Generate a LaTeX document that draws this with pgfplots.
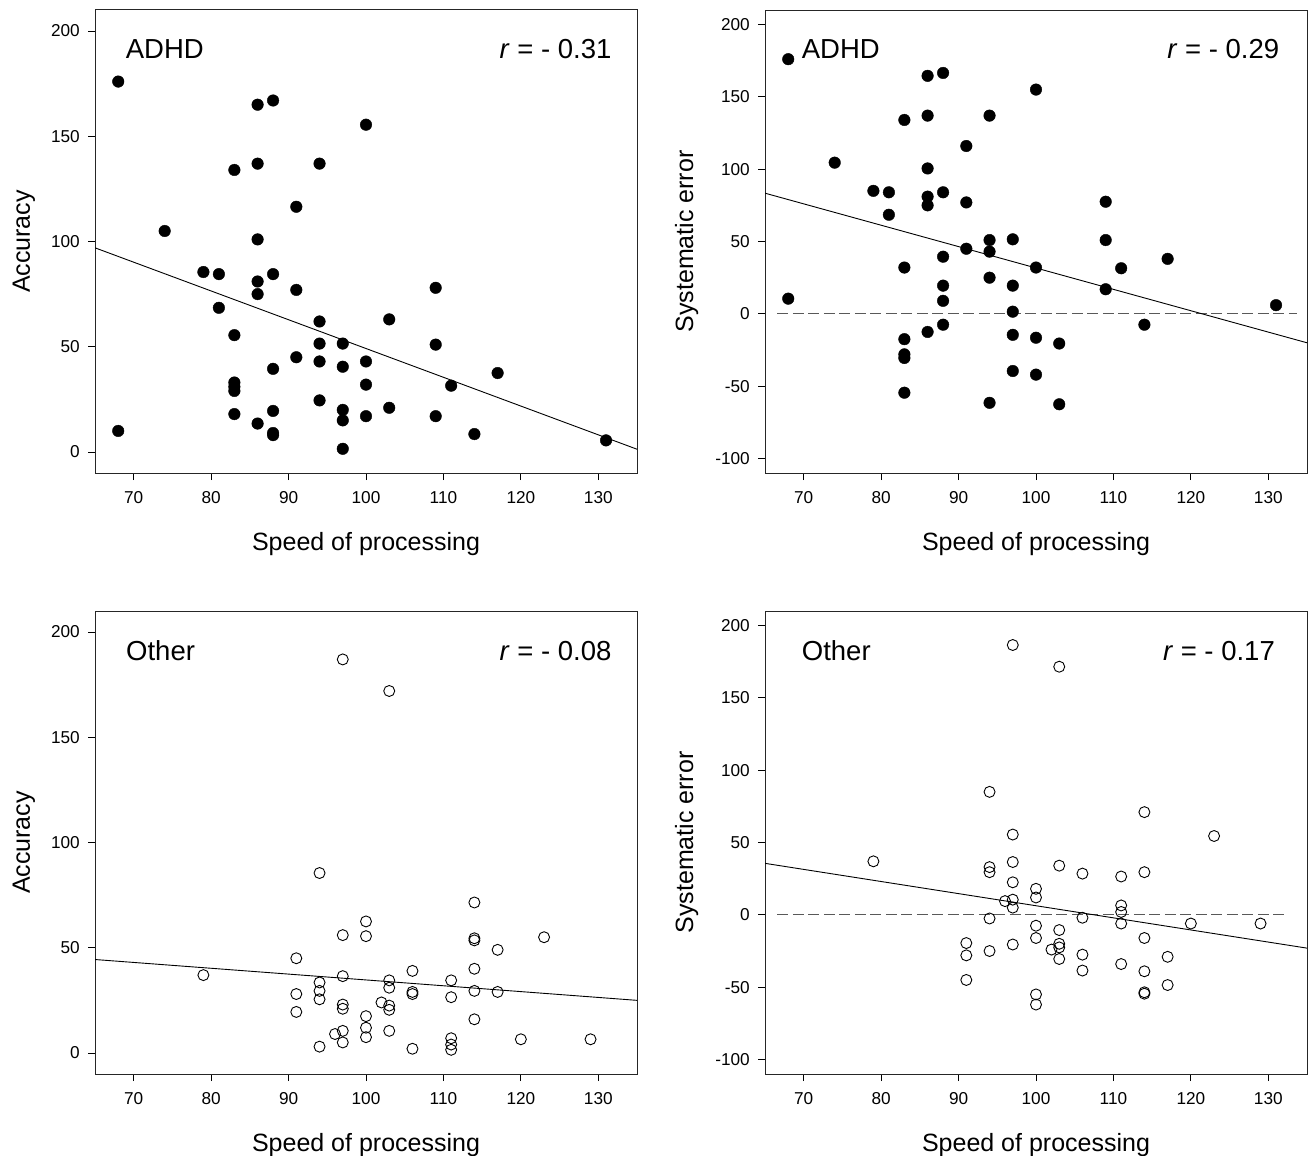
\documentclass[border=0pt]{standalone}
\usepackage{fontspec}
\setmainfont{Liberation Sans}
\usepackage{pgfplots}
\pgfplotsset{compat=1.18}

\pgfplotsset{
  panel/.style={
    scale only axis, width=542pt, height=463pt,
    xmin=65, xmax=135, xtick={70,80,...,130},
    axis line style={line width=1pt, black!85},
    tick align=outside, major tick length=7pt,
    tick style={line width=0.9pt, black},
    xtick pos=bottom, ytick pos=left,
    /pgf/number format/assume math mode=true,
    tick label style={font=\fontsize{17.2}{19}\selectfont},
    xticklabel style={anchor=base, inner sep=0pt, yshift=-23pt},
    yticklabel style={anchor=east, inner sep=0pt, xshift=-8pt},
    label style={font=\fontsize{25}{28}\selectfont},
    xlabel={Speed of processing},
    xlabel style={at={(axis description cs:0.5,-0.1663)}, anchor=base},
  },
  acc/.style={ymin=-10, ymax=210, ytick={0,50,...,200}, ylabel={Accuracy},
    ylabel style={at={(axis description cs:-0.12,0.5)}, anchor=base}},
  err/.style={ymin=-110, ymax=210, ytick={-100,-50,...,200}, ylabel={Systematic error},
    ylabel style={at={(axis description cs:-0.1328,0.5)}, anchor=base}},
  regline/.style={black, line width=0.9pt},
  zeroline/.style={black!65, line width=0.9pt, dash pattern=on 11pt off 4.5pt},
  fullmark/.style={only marks, mark=*, mark size=5.8pt, black},
  hollowmark/.style={only marks, mark=o, mark size=5.5pt, black, mark options={line width=0.9pt}},
}
\tikzset{big/.style={font=\fontsize{27.5}{30}\selectfont, inner sep=0pt}}

\begin{document}
\begin{tikzpicture}
\useasboundingbox (0,0) rectangle (1309pt,-1156pt);

% ADHD, accuracy
\begin{axis}[panel, acc, anchor=north west, at={(95pt,-10pt)}]
  \addplot[regline] coordinates {(65,97) (135,1.3)};
  \addplot[fullmark] coordinates {
    (68,176) (68,10) (74,105) (79,85.5) (81,84.5) (81,68.5)
    (83,134) (83,55.5) (83,33) (83,31) (83,29) (83,18)
    (86,165) (86,137) (86,101) (86,81) (86,75) (86,13.5)
    (88,167) (88,84.5) (88,39.5) (88,19.5) (88,9) (88,8)
    (91,116.5) (91,77) (91,45)
    (94,137) (94,62) (94,51.5) (94,43) (94,24.5)
    (97,51.5) (97,40.5) (97,20) (97,15) (97,1.5)
    (100,155.5) (100,43) (100,32) (100,17)
    (103,63) (103,21) (109,78) (109,51) (109,17)
    (111,31.5) (114,8.5) (117,37.5) (131,5.5)
  };
  \node[big, anchor=base west] at (axis description cs:0.0566,0.8957) {ADHD};
  \node[big, anchor=base east] at (axis description cs:0.9533,0.8957) {\textit{r} = - 0.31};
\end{axis}

% ADHD, systematic error
\begin{axis}[panel, err, anchor=north west, at={(765pt,-10pt)}]
  \addplot[zeroline] coordinates {(66.6,0) (133.7,0)};
  \addplot[regline] coordinates {(65,83.4) (135,-20)};
  \addplot[fullmark] coordinates {
    (68,176) (68,10.5) (74,104.5) (79,85) (81,84) (81,68.5)
    (83,134) (83,32) (83,-17.5) (83,-28) (83,-30.5) (83,-54.5)
    (86,164.5) (86,137) (86,100.5) (86,81) (86,75) (86,-12.5)
    (88,166.5) (88,84) (88,39.5) (88,19.5) (88,9) (88,-7.5)
    (91,116) (91,77) (91,45)
    (94,137) (94,51) (94,43) (94,25) (94,-61.5)
    (97,51.5) (97,19.5) (97,1.5) (97,-14.5) (97,-39.5)
    (100,155) (100,32) (100,-16.5) (100,-42)
    (103,-20.5) (103,-62.5) (109,77.5) (109,51) (109,17)
    (111,31.5) (114,-7.5) (117,38) (131,6)
  };
  \node[big, anchor=base west] at (axis description cs:0.0677,0.8957) {ADHD};
  \node[big, anchor=base east] at (axis description cs:0.9489,0.8957) {\textit{r} = - 0.29};
\end{axis}

% Other, accuracy
\begin{axis}[panel, acc, anchor=north west, at={(95pt,-611pt)}]
  \addplot[regline] coordinates {(65,44.4) (135,25)};
  \addplot[hollowmark] coordinates {
    (79,37) (91,45) (91,28) (91,19.5)
    (94,85.5) (94,33.5) (94,29.5) (94,25.5) (94,3) (96,9)
    (97,187) (97,56) (97,36.5) (97,23) (97,21) (97,10.5) (97,5)
    (100,62.5) (100,55.5) (100,17.5) (100,12) (100,7.5) (102,24)
    (103,172) (103,34.5) (103,31) (103,22.5) (103,20.5) (103,10.5)
    (106,39) (106,29) (106,28) (106,2)
    (111,34.5) (111,26.5) (111,7) (111,4) (111,1.5)
    (114,71.5) (114,54.5) (114,53.5) (114,40) (114,29.5) (114,16)
    (117,49) (117,29) (120,6.5) (123,55) (129,6.5)
  };
  \node[big, anchor=base west] at (axis description cs:0.0572,0.894) {Other};
  \node[big, anchor=base east] at (axis description cs:0.9533,0.894) {\textit{r} = - 0.08};
\end{axis}

% Other, systematic error
\begin{axis}[panel, err, anchor=north west, at={(765pt,-611pt)}]
  \addplot[zeroline] coordinates {(66.6,0) (132.6,0)};
  \addplot[regline] coordinates {(65,35.6) (135,-23)};
  \addplot[hollowmark] coordinates {
    (79,37) (91,-19.5) (91,-28) (91,-45)
    (94,85) (94,33) (94,29.5) (94,-2.5) (94,-25) (96,9.5)
    (97,186.5) (97,55.5) (97,36.5) (97,22.5) (97,10.5) (97,5) (97,-20.5)
    (100,18) (100,12) (100,-7.5) (100,-16) (100,-55) (100,-62) (102,-24)
    (103,171.5) (103,34) (103,-10.5) (103,-20) (103,-22.5) (103,-30.5)
    (106,28.5) (106,-2) (106,-27.5) (106,-38.5)
    (111,26.5) (111,6.5) (111,2) (111,-6) (111,-34)
    (114,71) (114,29.5) (114,-16) (114,-39) (114,-53.5) (114,-54.5)
    (117,-29) (117,-48.5) (120,-6) (123,54.5) (129,-6)
  };
  \node[big, anchor=base west] at (axis description cs:0.0677,0.894) {Other};
  \node[big, anchor=base east] at (axis description cs:0.941,0.894) {\textit{r} = - 0.17};
\end{axis}
\end{tikzpicture}
\end{document}
